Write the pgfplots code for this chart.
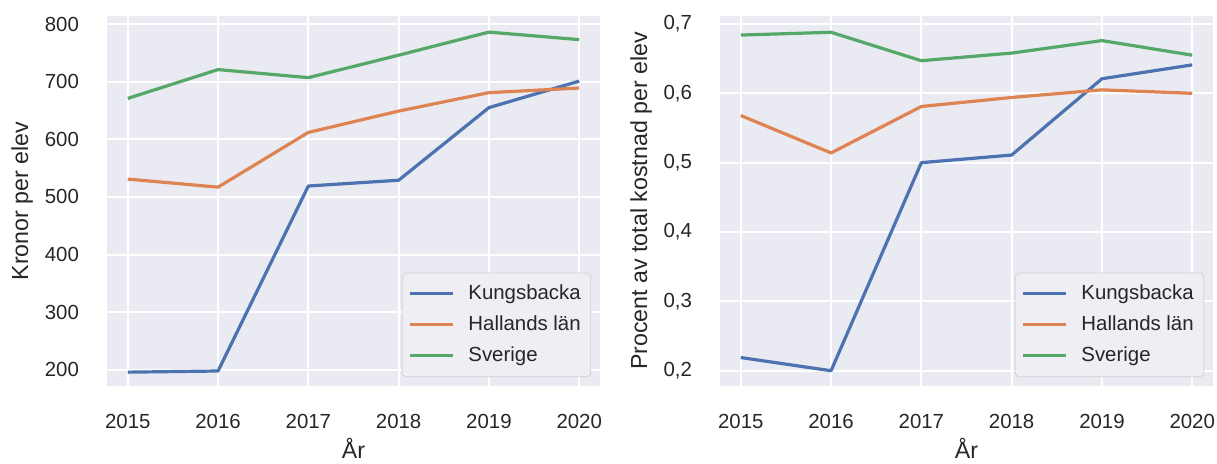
\documentclass[border=0pt]{standalone}
\usepackage{fontspec}
\setmainfont{Liberation Sans}
\usepackage{pgfplots}
\pgfplotsset{compat=1.18}
\definecolor{sbblue}{HTML}{4C72B0}
\definecolor{sborange}{HTML}{DD8452}
\definecolor{sbgreen}{HTML}{55A868}
\definecolor{sbbg}{HTML}{EAEAF2}
\definecolor{sbtext}{HTML}{262626}
\definecolor{legfill}{HTML}{EEEEF4}
\pgfplotsset{
  sbstyle/.style={
    scale only axis,
    width=246.5pt, height=185pt,
    anchor=south west,
    axis background/.style={fill=sbbg},
    axis line style={draw=none},
    major tick length=0pt,
    grid=major,
    major grid style={white, line width=1pt},
    xmin=2014.77, xmax=2020.23,
    xtick={2015,2016,2017,2018,2019,2020},
    xticklabels={2015,2016,2017,2018,2019,2020},
    xticklabel shift=10.5pt,
    yticklabel shift=10.5pt,
    tick label style={font=\fontsize{10.2}{12}\selectfont, text=sbtext},
    /pgf/number format/assume math mode=true,
    xlabel={År},
    every axis x label/.style={at={(axis description cs:0.5,-0.168)}, anchor=center,
      font=\fontsize{11.6}{13}\selectfont, text=sbtext},
    legend style={at={(0.982,0.024)}, anchor=south east, fill=legfill, draw=black!18,
      rounded corners=2pt, font=\fontsize{10.2}{12}\selectfont, text=sbtext,
      row sep=2.6pt, inner xsep=3pt, inner ysep=4pt},
    legend cell align=left,
    legend image code/.code={\draw[##1, line width=1.6pt] (0pt,0pt) -- (21.5pt,0pt); \path (26.5pt,0pt);},
    every axis plot/.append style={line width=1.6pt, line join=round},
  }
}
\begin{document}
\begin{tikzpicture}
\useasboundingbox (0,0) rectangle (608.5pt,232pt);
\begin{axis}[sbstyle, at={(53.5pt,39pt)},
  ymin=172, ymax=814,
  ytick={200,300,400,500,600,700,800},
  yticklabels={200,300,400,500,600,700,800},
  ylabel={Kronor per elev},
  every axis y label/.style={at={(axis description cs:-0.172,0.5)}, rotate=90, anchor=center,
    font=\fontsize{11.6}{13}\selectfont, text=sbtext},
]
\addplot[sbblue] coordinates {(2015,196) (2016,198) (2017,519) (2018,529) (2019,655) (2020,701)};
\addlegendentry{Kungsbacka}
\addplot[sborange] coordinates {(2015,531) (2016,517) (2017,612) (2018,649) (2019,681) (2020,689)};
\addlegendentry{Hallands län}
\addplot[sbgreen] coordinates {(2015,671) (2016,721) (2017,707) (2018,746) (2019,786) (2020,773)};
\addlegendentry{Sverige}
\end{axis}
\begin{axis}[sbstyle, at={(360pt,39pt)},
  ymin=0.178, ymax=0.7115,
  ytick={0.2,0.3,0.4,0.5,0.6,0.7},
  yticklabels={{0,2},{0,3},{0,4},{0,5},{0,6},{0,7}},
  ylabel={Procent av total kostnad per elev},
  every axis y label/.style={at={(axis description cs:-0.160,0.5)}, rotate=90, anchor=center,
    font=\fontsize{11.6}{13}\selectfont, text=sbtext},
]
\addplot[sbblue] coordinates {(2015,0.219) (2016,0.200) (2017,0.500) (2018,0.511) (2019,0.621) (2020,0.641)};
\addlegendentry{Kungsbacka}
\addplot[sborange] coordinates {(2015,0.568) (2016,0.514) (2017,0.581) (2018,0.594) (2019,0.605) (2020,0.600)};
\addlegendentry{Hallands län}
\addplot[sbgreen] coordinates {(2015,0.684) (2016,0.688) (2017,0.647) (2018,0.658) (2019,0.676) (2020,0.655)};
\addlegendentry{Sverige}
\end{axis}
\end{tikzpicture}
\end{document}
